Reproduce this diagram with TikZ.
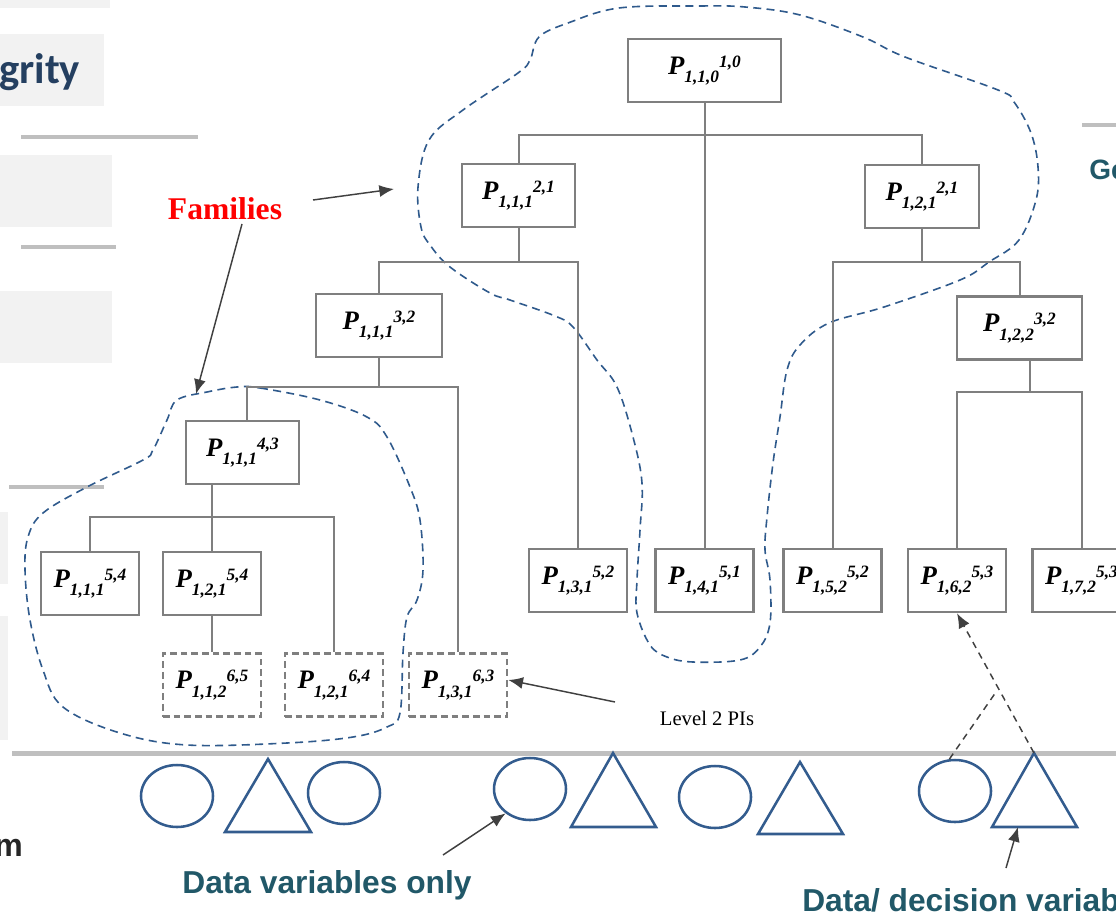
\documentclass[tikz,border=0pt]{standalone}
\usepackage{fontspec}
\setmainfont{Liberation Serif}
\newfontfamily\slidesans{Liberation Sans}
\newfontfamily\slidecal{Carlito}
\usetikzlibrary{arrows.meta,shapes.geometric,calc}

\definecolor{boxgray}{HTML}{7F7F7F}
\definecolor{bargray}{HTML}{BFBFBF}
\definecolor{panelgray}{HTML}{F2F2F2}
\definecolor{blobblue}{HTML}{2F5A8C}
\definecolor{varblue}{HTML}{335C8E}
\definecolor{labelteal}{HTML}{215868}
\definecolor{navytext}{HTML}{243F60}
\definecolor{arrowgray}{HTML}{404040}
\definecolor{darktext}{HTML}{262626}

% performance indicator label: P with subscript and superscript side by side
\newcommand{\pilabel}[2]{\textbf{\textit{P\raisebox{-0.32em}{\fontsize{13}{13}\selectfont #1}\raisebox{0.27em}{\fontsize{13}{13}\selectfont #2}}}}

\tikzset{
  pibox/.style={draw=boxgray, line width=2pt, fill=white, minimum height=47.25pt,
    inner sep=0pt, text=black, font=\fontsize{20}{20}\selectfont},
  pidash/.style={pibox, dash pattern=on 5pt off 3pt},
  conn/.style={draw=boxgray, line width=1.5pt},
  blob/.style={draw=blobblue, line width=1.2pt, dash pattern=on 6pt off 4pt},
  varell/.style={ellipse, draw=varblue, line width=1.9pt, minimum width=54pt, minimum height=46.5pt, inner sep=0pt},
  vartri/.style={draw=varblue, line width=1.9pt, line join=miter},
  arr/.style={draw=arrowgray, line width=1.1pt, -{Latex[length=11pt,width=9pt]}},
  dasharr/.style={draw=arrowgray, line width=1.1pt, dash pattern=on 5pt off 4pt},
  panel/.style={fill=panelgray, draw=none},
  rule/.style={draw=bargray, line width=3pt},
  plain/.style={inner sep=0pt}
}

\begin{document}
\begin{tikzpicture}[x=0.75pt,y=-0.75pt]
\useasboundingbox (0,0) rectangle (1116,916);
\clip (0,0) rectangle (1116,916);

% slide panels and rules behind the diagram
\fill[panel] (0,0) rectangle (110,8);
\fill[panel] (0,34) rectangle (104,106);
\fill[panel] (0,155) rectangle (112,227);
\fill[panel] (0,291) rectangle (112,363);
\fill[panel] (0,512) rectangle (8,584);
\fill[panel] (0,616) rectangle (8,740);
\draw[rule] (21,137) -- (198,137);
\draw[rule] (21,247) -- (116,247);
\draw[rule] (9,487) -- (104,487);
\draw[rule] (1082,125) -- (1116,125);
\draw[draw=bargray, line width=3.75pt] (12,753) -- (1116,753);

\node[plain, anchor=base west, font=\slidecal\bfseries\fontsize{32}{32}\selectfont, text=navytext] (grity) at (-1,84) {grity};
\node[plain, anchor=base west, font=\slidesans\bfseries\fontsize{21}{21}\selectfont, text=labelteal] (ge) at (1089,180) {Ge};
\node[plain, anchor=base east, font=\slidesans\bfseries\fontsize{24}{24}\selectfont, text=darktext] (mword) at (23,856) {m};

% family outlines
\draw[blob] plot[smooth cycle, tension=0.6] coordinates {
  (619,8) (700,6) (745,7) (800,15) (863,37) (905,57) (998,90) (1014,102)
  (1031,133) (1038,167) (1036,200) (1019,240) (989,262) (960,280) (884,307)
  (829,323) (800,345) (787,370) (780,417) (773,463) (767,517) (765,550)
  (770,580) (770,623) (760,647) (740,660) (693,662) (667,657) (650,645)
  (637,613) (637,580) (640,530) (642,483) (633,437) (617,387) (597,360)
  (573,327) (555,316) (510,300) (490,293) (450,267) (430,245) (421,227)
  (418,187) (429,140) (463,110) (518,73) (530,60) (539,37) (568,23)};
\draw[blob] plot[smooth cycle, tension=0.6] coordinates {
  (237,387) (260,388) (320,400) (367,417) (387,437) (410,487) (420,520)
  (423,570) (417,600) (407,617) (403,653) (400,713) (387,727) (353,737)
  (287,743) (187,745) (120,733) (63,707) (43,670) (30,620) (25,570)
  (28,537) (43,513) (87,487) (143,460) (153,450) (167,420) (177,400) (207,392)};

% indicator boxes
\node[pibox, minimum width=114.75pt] (p110) at (704.5,70.5) {\pilabel{1,1,0}{1,0}};
\node[pibox, minimum width=84.75pt] (p211) at (518.5,195.5) {\pilabel{1,1,1}{2,1}};
\node[pibox, minimum width=85.5pt] (p221) at (922,196.5) {\pilabel{1,2,1}{2,1}};
\node[pibox, minimum width=94.5pt] (p311) at (379,325.5) {\pilabel{1,1,1}{3,2}};
\node[pibox, minimum width=93.75pt] (p322) at (1019.5,328) {\pilabel{1,2,2}{3,2}};
\node[pibox, minimum width=84.75pt] (p411) at (242.5,452.5) {\pilabel{1,1,1}{4,3}};
\node[pibox, minimum width=73.5pt] (p511) at (90,583.5) {\pilabel{1,1,1}{5,4}};
\node[pibox, minimum width=73.5pt] (p521) at (212,583.5) {\pilabel{1,2,1}{5,4}};
\node[pidash, minimum width=73.5pt] (p612) at (212,685) {\pilabel{1,1,2}{6,5}};
\node[pidash, minimum width=73.5pt] (p641) at (334,685) {\pilabel{1,2,1}{6,4}};
\node[pidash, minimum width=73.5pt] (p631) at (458,685) {\pilabel{1,3,1}{6,3}};
\node[pibox, minimum width=73.5pt] (p131) at (578,580.5) {\pilabel{1,3,1}{5,2}};
\node[pibox, minimum width=73.5pt] (p141) at (704.5,580.5) {\pilabel{1,4,1}{5,1}};
\node[pibox, minimum width=73.5pt] (p152) at (832.5,580.5) {\pilabel{1,5,2}{5,2}};
\node[pibox, minimum width=73.5pt] (p162) at (957,580.5) {\pilabel{1,6,2}{5,3}};
\node[pibox, minimum width=73.5pt] (p172) at (1081.5,580.5) {\pilabel{1,7,2}{5,3}};

% tree connectors
\coordinate (bus1) at (704,135);
\coordinate (bus2) at (518.5,262);
\coordinate (bus3) at (922,262);
\coordinate (bus4) at (379,387);
\coordinate (k4) at (247,0);
\coordinate (bus5) at (212,517);
\coordinate (bus6) at (1030,392);
\draw[conn] (p110.south) -- (p141.north);
\draw[conn] (p211.north) |- (bus1) -| (p221.north);
\draw[conn] (p211.south) -- (bus2);
\draw[conn] (p311.north) |- (bus2) -| (p131.north);
\draw[conn] (p221.south) -- (bus3);
\draw[conn] (p152.north) |- (bus3) -| (p322.north);
\draw[conn] (p311.south) -- (bus4);
\draw[conn] (p411.north -| k4) |- (bus4) -| (p631.north);
\draw[conn] (p411.south -| bus5) -- (p521.north);
\draw[conn] (p511.north) |- (bus5) -| (p641.north);
\draw[conn] (p521.south) -- (p612.north);
\draw[conn] (p322.south -| bus6) -- (bus6);
\draw[conn] (p162.north) |- (bus6) -| (p172.north);

% data and decision variables
\node[varell] (e1) at (177,796) {};
\node[varell] (e2) at (344,793) {};
\node[varell] (e3) at (530,789) {};
\node[varell] (e4) at (715,797) {};
\node[varell] (e5) at (955,791) {};
\coordinate (t1) at (268,759);
\coordinate (t2) at (613,753);
\coordinate (t3) at (800,762);
\coordinate (t4) at (1034,753);
\draw[vartri] (t1) -- (225,832) -- (311,832) -- cycle;
\draw[vartri] (t2) -- (571,827) -- (656,827) -- cycle;
\draw[vartri] (t3) -- (758,834) -- (843,834) -- cycle;
\draw[vartri] (t4) -- (992,827) -- (1077,827) -- cycle;

% aggregation of variables into an indicator
\coordinate (jn) at (996,692);
\draw[dasharr] (e5.100) -- (jn);
\draw[dasharr, -{Latex[length=11pt,width=9pt]}] (t4) -- (p162.south);

% labels and pointers
\node[plain, font=\bfseries\fontsize{23.7}{24}\selectfont, text=red] (fam) at (225,209) {Families};
\node[plain, font=\fontsize{15.5}{16}\selectfont] (lvl) at (707,718) {Level 2 PIs};
\node[plain, font=\slidesans\bfseries\fontsize{23.8}{24}\selectfont, text=labelteal] (dvo) at (327,885) {Data variables only};
\node[plain, anchor=west, font=\slidesans\bfseries\fontsize{23.8}{24}\selectfont, text=labelteal] (ddv) at (802,900) {Data/ decision variables};

\coordinate (famA) at (313,200);
\coordinate (blobA) at (394,189);
\coordinate (famB) at (242,224);
\coordinate (blobB) at (196,394);
\coordinate (lvlA) at (615,702);
\coordinate (dvoA) at (443,855);
\coordinate (ddvA) at (1006,868);
\coordinate (t4b) at (1018,827);
\draw[arr] (famA) -- (blobA);
\draw[arr] (famB) -- (blobB);
\draw[arr] (lvlA) -- ([yshift=3.75pt]p631.east);
\draw[arr] (dvoA) -- (e3.225);
\draw[arr] (ddvA) -- (t4b);
\end{tikzpicture}
\end{document}
